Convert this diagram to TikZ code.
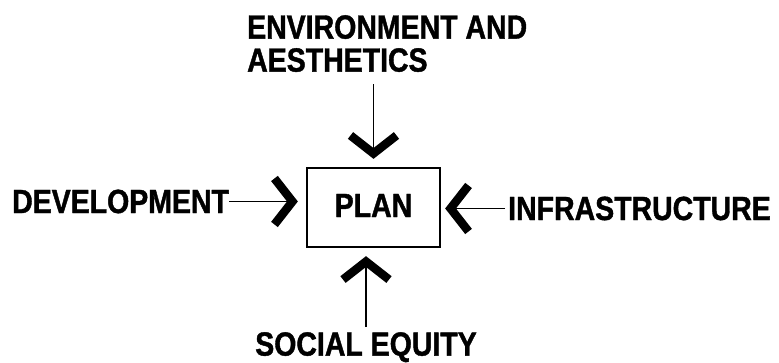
\documentclass[tikz,border=0pt]{standalone}
\usepackage{fontspec}
\setmainfont{Liberation Sans}[FakeStretch=0.85,BoldFeatures={FakeBold=1.2}]
\usetikzlibrary{arrows.meta}
\begin{document}
\begin{tikzpicture}[x=1pt,y=-1pt,
  lbl/.style={inner sep=0pt,font=\fontsize{33.5}{33}\selectfont\bfseries},
  planbox/.style={draw,line width=2.3pt,minimum width=133pt,minimum height=79pt,inner sep=0pt,
    font=\fontsize{33.5}{33}\selectfont\bfseries},
  conn/.style={line width=1.7pt,-{Straight Barb[length=18pt,width=46pt,line width=8.5pt]}}]
\useasboundingbox (0,0) rectangle (779,362);
\node[planbox] (box) at (373.5,207.5) {\raisebox{4pt}{PLAN}};
\node[lbl,anchor=north west,align=left] (env) at (247,15) {ENVIRONMENT AND\\AESTHETICS};
\node[lbl,anchor=base west] (dev) at (12,213) {DEVELOPMENT};
\node[lbl,anchor=base west] (infra) at (508,220) {INFRASTRUCTURE};
\node[lbl,anchor=north] (social) at (366,332) {SOCIAL EQUITY};
\draw[conn,shorten <=12pt,shorten >=8pt] (env.south -| box.north) -- (box.north);
\draw[conn,shorten >=8pt] (dev.east) -- (dev.east -| box.west);
\draw[conn,shorten <=3pt,shorten >=4pt] (infra.west) -- (infra.west -| box.east);
\draw[conn,shorten <=5pt,shorten >=8pt] (social.north) -- (social.north |- box.south);
\end{tikzpicture}
\end{document}
